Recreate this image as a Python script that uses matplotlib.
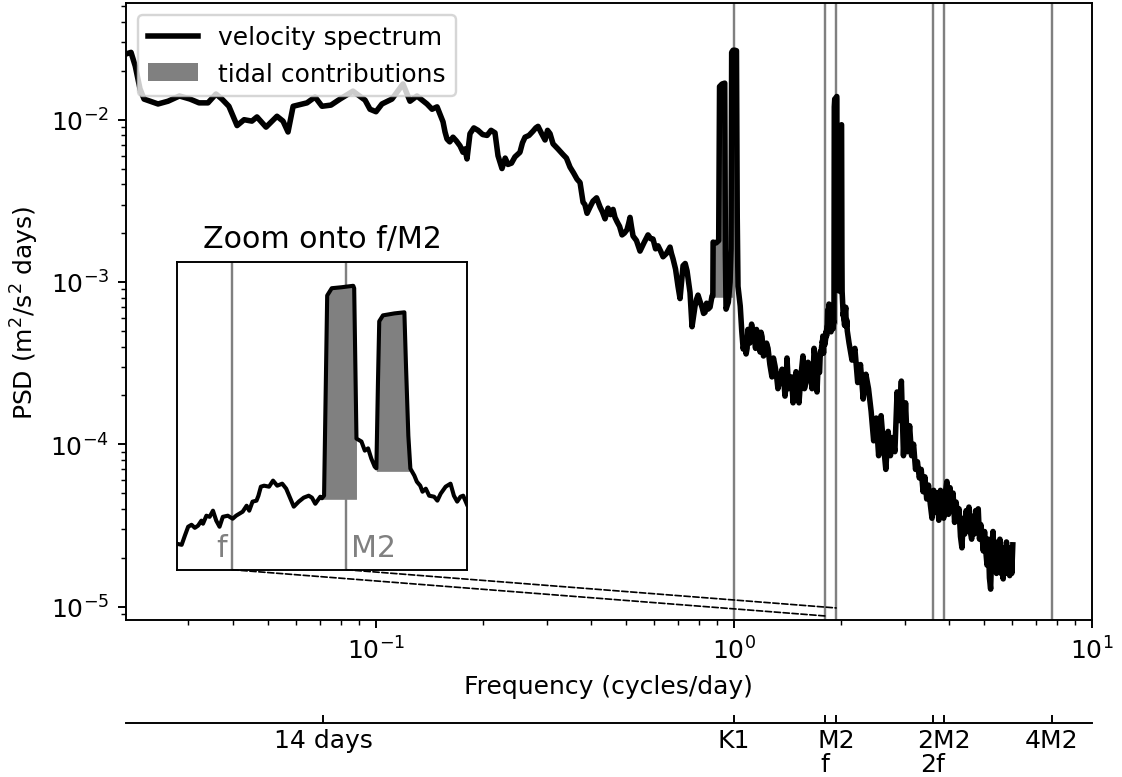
import matplotlib
matplotlib.use("Agg")
import numpy as np
import matplotlib.pyplot as plt
from matplotlib.patches import ConnectionPatch, Patch
from matplotlib.lines import Line2D
from matplotlib.ticker import NullLocator
from matplotlib.transforms import blended_transform_factory

# ---------------- data ----------------
# low-frequency part of the velocity spectrum (cycles/day, m^2/s^2 days)
freq_low = [0.02007, 0.02073, 0.0213, 0.02196, 0.02254, 0.02466, 0.0263, 0.0283, 0.0303, 0.0321,
            0.034, 0.0358, 0.0372, 0.0389, 0.041, 0.0429, 0.0451, 0.0466, 0.0494, 0.053,
            0.0551, 0.0569, 0.0588, 0.0643, 0.0677, 0.0708, 0.075, 0.0795, 0.0864, 0.0934,
            0.0964, 0.1002, 0.1041, 0.111, 0.1192, 0.1247, 0.1304, 0.1391, 0.1437, 0.1484,
            0.1542, 0.1562, 0.1582, 0.161, 0.1644, 0.168, 0.172, 0.1753, 0.1775, 0.1799,
            0.1834, 0.188, 0.1931, 0.199, 0.2047, 0.21, 0.2154, 0.2196, 0.2253, 0.23,
            0.2342, 0.2395, 0.2449, 0.249, 0.2529, 0.257, 0.2613, 0.268, 0.2751, 0.28,
            0.2841, 0.29, 0.2972, 0.302, 0.3069, 0.3129, 0.323, 0.3336, 0.341, 0.349,
            0.357, 0.3651, 0.3722, 0.3795, 0.384, 0.3894, 0.397, 0.4046, 0.414, 0.4233,
            0.43, 0.4371, 0.4457, 0.453, 0.4603, 0.466, 0.4723, 0.48, 0.4877, 0.495,
            0.5035, 0.509, 0.5134, 0.518, 0.5234, 0.535, 0.5474, 0.562, 0.5763, 0.586,
            0.5952, 0.605, 0.6147, 0.625, 0.6348, 0.649, 0.664, 0.67, 0.6769, 0.688,
            0.699, 0.7081, 0.715, 0.722, 0.732, 0.7408, 0.748, 0.7551, 0.7649, 0.772,
            0.7798, 0.787, 0.795, 0.805, 0.8156, 0.824, 0.8316, 0.84, 0.8479, 0.859,
            0.87]
psd_low = [2.54e-2, 2.60e-2, 2.14e-2, 1.55e-2, 1.34e-2, 1.25e-2, 1.30e-2, 1.40e-2, 1.34e-2, 1.27e-2,
           1.27e-2, 1.44e-2, 1.34e-2, 1.21e-2, 9.2e-3, 1.0e-2, 9.8e-3, 1.04e-2, 9.0e-3, 1.05e-2,
           9.8e-3, 8.4e-3, 1.21e-2, 1.27e-2, 1.38e-2, 1.21e-2, 1.23e-2, 1.34e-2, 1.50e-2, 1.32e-2,
           1.16e-2, 1.12e-2, 1.25e-2, 1.34e-2, 1.66e-2, 1.30e-2, 1.40e-2, 1.25e-2, 1.16e-2, 1.20e-2,
           9.7e-3, 8.4e-3, 7.6e-3, 7.3e-3, 7.8e-3, 7.4e-3, 6.9e-3, 6.3e-3, 6.6e-3, 5.73e-3,
           8.2e-3, 8.9e-3, 8.6e-3, 8.1e-3, 8.0e-3, 8.6e-3, 8.3e-3, 6.0e-3, 5.0e-3, 5.8e-3,
           5.3e-3, 5.4e-3, 5.9e-3, 6.1e-3, 6.3e-3, 7.2e-3, 7.8e-3, 8.0e-3, 8.5e-3, 8.9e-3,
           9.1e-3, 8.3e-3, 7.5e-3, 8.6e-3, 8.2e-3, 7.1e-3, 6.6e-3, 6.1e-3, 5.8e-3, 5.1e-3,
           4.7e-3, 4.3e-3, 4.1e-3, 3.1e-3, 3.0e-3, 2.65e-3, 2.9e-3, 3.15e-3, 3.3e-3, 2.9e-3,
           2.7e-3, 2.45e-3, 2.85e-3, 2.6e-3, 2.8e-3, 2.5e-3, 2.35e-3, 2.2e-3, 1.95e-3, 2.0e-3,
           2.1e-3, 2.3e-3, 2.5e-3, 2.2e-3, 1.92e-3, 1.8e-3, 1.55e-3, 1.75e-3, 1.95e-3, 1.85e-3,
           1.84e-3, 1.6e-3, 1.67e-3, 1.55e-3, 1.43e-3, 1.5e-3, 1.64e-3, 1.5e-3, 1.39e-3, 1.2e-3,
           9.4e-4, 7.9e-4, 1.0e-3, 1.26e-3, 1.3e-3, 1.17e-3, 1.0e-3, 8.6e-4, 5.3e-4, 6.1e-4,
           7.1e-4, 7.8e-4, 8.3e-4, 7.6e-4, 7.0e-4, 6.4e-4, 6.5e-4, 7.4e-4, 6.8e-4, 7.0e-4,
           8.2e-4]

# diurnal band (Q1, O1, K1) and the gap up to the semidiurnal band
freq_diurnal = [0.8745, 0.876, 0.893, 0.908, 0.913, 0.928, 0.944, 0.948, 0.952, 0.966,
                0.977, 0.983, 0.987, 0.996, 1.008, 1.018, 1.023, 1.028, 1.043, 1.053,
                1.063, 1.073, 1.083, 1.09, 1.096, 1.109, 1.122, 1.133, 1.144, 1.151,
                1.158, 1.171, 1.185, 1.192, 1.2, 1.211, 1.223, 1.235, 1.247, 1.262,
                1.279, 1.291, 1.304, 1.316, 1.329, 1.347, 1.365, 1.378, 1.391, 1.4,
                1.409, 1.423, 1.437, 1.451, 1.465, 1.479, 1.493, 1.508, 1.522, 1.54,
                1.561, 1.576, 1.592, 1.603, 1.613, 1.634, 1.655, 1.666, 1.677, 1.693,
                1.709, 1.72]
psd_diurnal = [8.2e-4, 1.76e-3, 1.74e-3, 1.80e-3, 1.60e-2, 1.66e-2, 1.68e-2, 1.5e-3, 6.8e-4, 7.5e-4,
               1.0e-3, 1.6e-3, 2.60e-2, 2.68e-2, 2.68e-2, 2.66e-2, 2.5e-3, 9.4e-4, 7.1e-4, 5.0e-4,
               3.86e-4, 4.3e-4, 3.6e-4, 3.9e-4, 5.1e-4, 4.2e-4, 5.5e-4, 4.8e-4, 4.4e-4, 3.9e-4,
               5.1e-4, 4.3e-4, 3.7e-4, 4.9e-4, 4.6e-4, 3.5e-4, 3.6e-4, 4.2e-4, 3.9e-4, 3.1e-4,
               2.6e-4, 3.4e-4, 3.05e-4, 2.7e-4, 2.2e-4, 2.5e-4, 2.9e-4, 2.6e-4, 1.98e-4, 2.3e-4,
               3.4e-4, 2.2e-4, 2.4e-4, 2.6e-4, 1.8e-4, 2.2e-4, 2.8e-4, 2.4e-4, 1.8e-4, 2.6e-4,
               3.5e-4, 2.2e-4, 2.4e-4, 2.7e-4, 3.2e-4, 3.0e-4, 2.2e-4, 2.6e-4, 3.9e-4, 3.3e-4,
               2.1e-4, 3.0e-4]

# semidiurnal band (f, M2, S2) - the part shown in the inset
freq_semi = [1.7320, 1.7372, 1.7410, 1.7449, 1.7489, 1.7528, 1.7566, 1.7606, 1.7625, 1.7665,
             1.7704, 1.7743, 1.7782, 1.7821, 1.7860, 1.7919, 1.7977, 1.8017, 1.8056, 1.8095,
             1.8142, 1.8173, 1.8212, 1.8259, 1.8282, 1.8311, 1.8349, 1.8408, 1.8455, 1.8505,
             1.8564, 1.8611, 1.8651, 1.8701, 1.8760, 1.8819, 1.8878, 1.8916, 1.8956, 1.9015,
             1.9035, 1.9060, 1.9081, 1.9097, 1.9151, 1.9268, 1.9406, 1.9417, 1.9444, 1.9503,
             1.9543, 1.9582, 1.9620, 1.9660, 1.9680, 1.9699, 1.9714, 1.9758, 1.9895, 2.0012,
             2.0031, 2.0059, 2.0083, 2.0130, 2.0160, 2.0200, 2.0227, 2.0266, 2.0306, 2.0365,
             2.0403, 2.0442, 2.0501, 2.0559, 2.0599, 2.0638, 2.0677, 2.0709, 2.0760]
psd_semi = [2.81e-4, 2.77e-4, 3.18e-4, 3.64e-4, 3.75e-4, 3.58e-4, 3.70e-4, 3.99e-4, 3.81e-4, 4.30e-4,
            4.23e-4, 4.64e-4, 3.99e-4, 3.64e-4, 4.23e-4, 4.30e-4, 4.11e-4, 4.30e-4, 4.43e-4, 4.57e-4,
            5.00e-4, 4.64e-4, 5.32e-4, 5.40e-4, 5.82e-4, 6.67e-4, 6.77e-4, 6.67e-4, 7.31e-4, 6.77e-4,
            6.98e-4, 6.47e-4, 5.73e-4, 4.93e-4, 5.32e-4, 5.65e-4, 5.82e-4, 5.65e-4, 5.15e-4, 5.73e-4,
            5.60e-4, 5.82e-4, 3.27e-3, 1.20e-2, 1.34e-2, 1.36e-2, 1.39e-2, 1.34e-2, 1.38e-3, 1.32e-3,
            1.15e-3, 1.19e-3, 1.02e-3, 9.03e-4, 8.80e-4, 3.27e-3, 8.13e-3, 8.89e-3, 9.16e-3, 9.31e-3,
            4.17e-3, 1.44e-3, 8.77e-4, 7.89e-4, 7.19e-4, 6.77e-4, 6.18e-4, 6.47e-4, 5.82e-4, 5.73e-4,
            5.40e-4, 6.00e-4, 6.67e-4, 6.98e-4, 5.82e-4, 5.32e-4, 5.73e-4, 5.82e-4, 5.0e-4]

# high-frequency tail
freq_high = [2.10, 2.14, 2.18, 2.22, 2.26, 2.30, 2.34, 2.38, 2.42, 2.46,
             2.50, 2.54, 2.58, 2.62, 2.66, 2.70, 2.74, 2.78, 2.82, 2.86,
             2.90, 2.94, 2.98, 3.02, 3.06, 3.10, 3.14, 3.18, 3.22, 3.26,
             3.30, 3.34, 3.38, 3.42, 3.46, 3.50, 3.54, 3.58, 3.62, 3.66,
             3.70, 3.74, 3.78, 3.82, 3.86, 3.90, 3.94, 3.98, 4.02, 4.06,
             4.10, 4.14, 4.18, 4.22, 4.26, 4.30, 4.34, 4.38, 4.42, 4.46,
             4.50, 4.54, 4.58, 4.62, 4.66, 4.70, 4.74, 4.78, 4.82, 4.86,
             4.90, 4.94, 4.98, 5.02, 5.06, 5.10, 5.14, 5.18, 5.22, 5.26,
             5.30, 5.34, 5.38, 5.42, 5.46, 5.50, 5.54, 5.58, 5.62, 5.66,
             5.70, 5.74, 5.78, 5.82, 5.86, 5.90, 5.94, 5.98, 6.02]
psd_high = [4.2e-4, 3.3e-4, 3.9e-4, 2.4e-4, 3.1e-4, 1.9e-4, 2.7e-4, 2.2e-4, 1.6e-4, 1.05e-4,
            1.45e-4, 8.5e-5, 1.5e-4, 1.0e-4, 7.0e-5, 1.2e-4, 8.5e-5, 1.1e-4, 9.0e-5, 2.1e-4,
            1.4e-4, 2.45e-4, 8.5e-5, 1.8e-4, 9.0e-5, 1.3e-4, 8.5e-5, 1.0e-4, 7.0e-5, 7.8e-5,
            6.2e-5, 7.0e-5, 5.1e-5, 6.3e-5, 4.6e-5, 5.6e-5, 4.3e-5, 3.5e-5, 5.2e-5, 3.8e-5,
            5.0e-5, 3.4e-5, 5.2e-5, 4.0e-5, 3.5e-5, 5.0e-5, 5.9e-5, 3.7e-5, 5.4e-5, 4.0e-5,
            5.0e-5, 3.3e-5, 4.4e-5, 3.6e-5, 4.0e-5, 2.7e-5, 2.3e-5, 3.5e-5, 2.8e-5, 3.9e-5,
            3.0e-5, 4.1e-5, 2.9e-5, 2.6e-5, 3.6e-5, 2.8e-5, 3.9e-5, 3.0e-5, 4.0e-5, 2.6e-5,
            3.2e-5, 2.7e-5, 2.2e-5, 2.9e-5, 2.2e-5, 1.8e-5, 2.6e-5, 1.5e-5, 1.28e-5, 2.3e-5,
            2.9e-5, 1.9e-5, 2.5e-5, 1.6e-5, 2.2e-5, 1.7e-5, 2.6e-5, 1.6e-5, 2.0e-5, 1.48e-5,
            2.3e-5, 1.6e-5, 2.5e-5, 1.7e-5, 2.2e-5, 1.55e-5, 2.3e-5, 1.6e-5, 2.4e-5]

# tidal bands used for the shaded "tidal contributions"
band_lo = [0.8745, 1.9035, 1.9675]
band_hi = [0.997, 1.9445, 2.0085]
band_base = [8.05e-4, 5.51e-4, 8.41e-4]

# reference frequencies (cycles/day)
K1 = 1.0027
f_inertial = 1.797
M2 = 1.9323
line_freqs = [K1, f_inertial, M2, 2 * f_inertial, 2 * M2, 4 * M2]

sec_ticks = [1 / 14, K1, f_inertial, M2, 2 * f_inertial, 2 * M2, 4 * M2]
sec_labels = ["14 days", "K1", "", "M2", "", "2M2", "4M2"]
sub_ticks = [f_inertial, 2 * f_inertial]
sub_labels = ["f", "2f"]

freq = np.array(freq_low + freq_diurnal + freq_semi + freq_high)
psd = np.array(psd_low + psd_diurnal + psd_semi + psd_high)

# ---------------- figure ----------------
plt.rcParams["font.size"] = 10.4
DPI = 173
fig = plt.figure(figsize=(1122 / DPI, 778 / DPI), dpi=DPI)
ax = fig.add_axes([0.1123, 0.2018, 0.8607, 0.7931])
ax.set_xscale("log")
ax.set_yscale("log")

for fr in line_freqs:
    ax.axvline(fr, color="gray", lw=1.0, zorder=1)

ax.plot(freq, psd, color="k", lw=2.3, zorder=3)
for lo, hi, base in zip(band_lo, band_hi, band_base):
    m = (freq >= lo) & (freq <= hi)
    ax.fill_between(freq[m], base, psd[m], color="gray", lw=0, zorder=2)

ax.set_xlim(0.02007, 10)
ax.set_ylim(8.26e-6, 5.24e-2)
ax.set_xlabel("Frequency (cycles/day)")
ax.set_ylabel("PSD (m$^2$/s$^2$ days)")

handles = [Line2D([], [], color="k", lw=2.3), Patch(facecolor="gray", edgecolor="none")]
leg = ax.legend(handles, ["velocity spectrum", "tidal contributions"], loc="upper left")
leg.set_zorder(5)

# secondary axis with tidal constituent labels
SPINE_POS = -0.167
ax2 = ax.twiny()
ax2.set_xscale("log")
ax2.set_xlim(ax.get_xlim())
ax2.xaxis.set_ticks_position("bottom")
ax2.xaxis.set_label_position("bottom")
ax2.spines["bottom"].set_position(("axes", SPINE_POS))
for s in ["top", "left", "right"]:
    ax2.spines[s].set_visible(False)
ax2.set_xticks(sec_ticks)
ax2.set_xticklabels(sec_labels)
ax2.xaxis.set_minor_locator(NullLocator())
ax2.tick_params(axis="x", direction="in", pad=2.0)
trans_sub = blended_transform_factory(ax2.transData, ax2.transAxes)
for fr, lab in zip(sub_ticks, sub_labels):
    ax2.text(fr, -0.2455, lab, transform=trans_sub, ha="center", va="baseline")

# inset
ax_in = fig.add_axes([0.1580, 0.2664, 0.2579, 0.3959])
ax_in.set_yscale("log")
for fr in [f_inertial, M2]:
    ax_in.axvline(fr, color="gray", lw=1.0, zorder=1)
ax_in.plot(freq, psd, color="k", lw=1.7, zorder=3)
for lo, hi, base in zip(band_lo, band_hi, band_base):
    m = (freq >= lo) & (freq <= hi)
    ax_in.fill_between(freq[m], base, psd[m], color="gray", lw=0, zorder=2)
ax_in.set_xlim(1.732, 2.075)
ax_in.set_ylim(1.9e-4, 2.0e-2)
ax_in.tick_params(which="both", left=False, bottom=False, labelleft=False, labelbottom=False)
ax_in.yaxis.set_minor_locator(NullLocator())
ax_in.set_title("Zoom onto f/M2")
ax_in.annotate("f", xy=(f_inertial, 0.045), xycoords=("data", "axes fraction"),
               xytext=(-2, 0), textcoords="offset points", ha="right", va="baseline",
               color="gray", fontsize=12.5)
ax_in.annotate("M2", xy=(M2, 0.045), xycoords=("data", "axes fraction"),
               xytext=(2, 0), textcoords="offset points", ha="left", va="baseline",
               color="gray", fontsize=12.5)

for fr, yend in zip([f_inertial, M2], [8.75e-6, 9.8e-6]):
    con = ConnectionPatch(xyA=(fr, 1.9e-4), coordsA=ax_in.transData,
                          xyB=(fr, yend), coordsB=ax.transData,
                          ls="--", lw=0.7, color="k")
    fig.add_artist(con)

fig.savefig("out.png", dpi=DPI)
